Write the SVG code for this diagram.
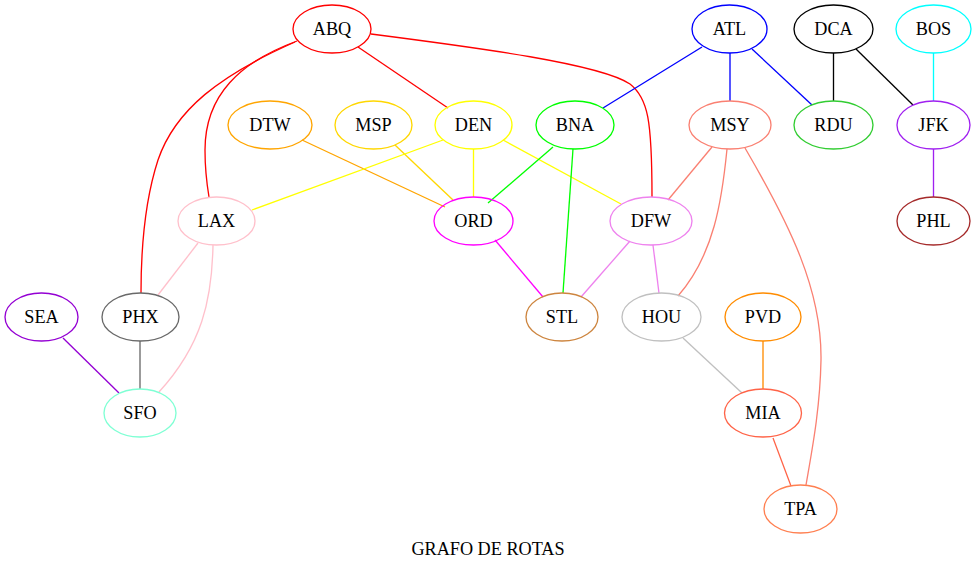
<svg xmlns="http://www.w3.org/2000/svg" width="976" height="569" viewBox="0 0 976 569">
<style>
.n ellipse{fill:none;stroke-width:1.33}
.n text{font-family:"Liberation Serif","Times New Roman",serif;font-size:18.2px;text-anchor:middle;fill:#000}
#edges path{fill:none;stroke-width:1.33}
.t{font-family:"Liberation Serif","Times New Roman",serif;font-size:18.2px;text-anchor:middle;fill:#000}
</style>
<rect width="976" height="569" fill="#fff"/>
<g id="edges">
<path d="M358,47 L448,108" stroke="#ff0000"/>
<path d="M297,41 C240,62 205,95 205,150 C205,172 207,185 209,197" stroke="#ff0000"/>
<path d="M295,42 C220,75 175,110 158,160 C145,200 141,250 141,293" stroke="#ff0000"/>
<path d="M371,34 C480,48 600,64 630,84 C648,98 652,120 652,197" stroke="#ff0000"/>
<path d="M702,47 L603,108" stroke="#0000ff"/>
<path d="M730,53 L730,101" stroke="#0000ff"/>
<path d="M752,49 L812,105" stroke="#0000ff"/>
<path d="M833.5,53 L833.5,101" stroke="#000000"/>
<path d="M856,49 L913,105" stroke="#000000"/>
<path d="M933.5,53 L933.5,101" stroke="#00ffff"/>
<path d="M933.5,149 L933.5,197" stroke="#a020f0"/>
<path d="M302,140 L445,207" stroke="#ffa500"/>
<path d="M395,145 L453,200" stroke="#ffd700"/>
<path d="M473.5,149 L473.5,197" stroke="#ffff00"/>
<path d="M443,140 L252,210" stroke="#ffff00"/>
<path d="M503,140 L621,204" stroke="#ffff00"/>
<path d="M553,147 L488,203" stroke="#00ff00"/>
<path d="M573,149 L563,293" stroke="#00ff00"/>
<path d="M712,147 L668,200" stroke="#fa8072"/>
<path d="M727,149 C722,200 714,255 678,296" stroke="#fa8072"/>
<path d="M745,148 C790,225 822,290 821,360 C820,410 812,450 806,485" stroke="#fa8072"/>
<path d="M495,240 L543,297" stroke="#ff00ff"/>
<path d="M630,241 L581,297" stroke="#ee82ee"/>
<path d="M653,245 L659,293" stroke="#ee82ee"/>
<path d="M683,338 L742,393" stroke="#c0c0c0"/>
<path d="M763,341 L763,389" stroke="#ff8c00"/>
<path d="M773,438 L791,486" stroke="#ff6347"/>
<path d="M198,243 L158,295" stroke="#ffc0cb"/>
<path d="M213,245 C212,300 202,345 159,392" stroke="#ffc0cb"/>
<path d="M140,341 L140,389" stroke="#696969"/>
<path d="M63,338 L119,393" stroke="#9400d3"/>
</g>
<g id="ABQ" class="n"><ellipse cx="332" cy="29" rx="39" ry="24" stroke="#ff0000"/><text x="332" y="35">ABQ</text></g>
<g id="ATL" class="n"><ellipse cx="729.5" cy="29" rx="37.5" ry="24" stroke="#0000ff"/><text x="729.5" y="35">ATL</text></g>
<g id="DCA" class="n"><ellipse cx="833.5" cy="29" rx="39.5" ry="24" stroke="#000000"/><text x="833.5" y="35">DCA</text></g>
<g id="BOS" class="n"><ellipse cx="933.5" cy="29" rx="37.5" ry="24" stroke="#00ffff"/><text x="933.5" y="35">BOS</text></g>
<g id="DTW" class="n"><ellipse cx="270" cy="125" rx="42" ry="24" stroke="#ffa500"/><text x="270" y="131">DTW</text></g>
<g id="MSP" class="n"><ellipse cx="373.5" cy="125" rx="38.5" ry="24" stroke="#ffd700"/><text x="373.5" y="131">MSP</text></g>
<g id="DEN" class="n"><ellipse cx="473.5" cy="125" rx="38.5" ry="24" stroke="#ffff00"/><text x="473.5" y="131">DEN</text></g>
<g id="BNA" class="n"><ellipse cx="575" cy="125" rx="39" ry="24" stroke="#00ff00"/><text x="575" y="131">BNA</text></g>
<g id="MSY" class="n"><ellipse cx="730" cy="125" rx="41" ry="24" stroke="#fa8072"/><text x="730" y="131">MSY</text></g>
<g id="RDU" class="n"><ellipse cx="833.5" cy="125" rx="39.5" ry="24" stroke="#32cd32"/><text x="833.5" y="131">RDU</text></g>
<g id="JFK" class="n"><ellipse cx="933.5" cy="125" rx="36.5" ry="24" stroke="#a020f0"/><text x="933.5" y="131">JFK</text></g>
<g id="LAX" class="n"><ellipse cx="216.5" cy="221" rx="38.5" ry="24" stroke="#ffc0cb"/><text x="216.5" y="227">LAX</text></g>
<g id="ORD" class="n"><ellipse cx="473.5" cy="221" rx="39.5" ry="24" stroke="#ff00ff"/><text x="473.5" y="227">ORD</text></g>
<g id="DFW" class="n"><ellipse cx="651" cy="221" rx="41" ry="24" stroke="#ee82ee"/><text x="651" y="227">DFW</text></g>
<g id="PHL" class="n"><ellipse cx="933.5" cy="221" rx="36.5" ry="24" stroke="#a52a2a"/><text x="933.5" y="227">PHL</text></g>
<g id="SEA" class="n"><ellipse cx="41.5" cy="317" rx="36.5" ry="24" stroke="#9400d3"/><text x="41.5" y="323">SEA</text></g>
<g id="PHX" class="n"><ellipse cx="140.5" cy="317" rx="38.5" ry="24" stroke="#696969"/><text x="140.5" y="323">PHX</text></g>
<g id="STL" class="n"><ellipse cx="562" cy="317" rx="36" ry="24" stroke="#cd853f"/><text x="562" y="323">STL</text></g>
<g id="HOU" class="n"><ellipse cx="661.5" cy="317" rx="39.5" ry="24" stroke="#c0c0c0"/><text x="661.5" y="323">HOU</text></g>
<g id="PVD" class="n"><ellipse cx="763" cy="317" rx="38" ry="24" stroke="#ff8c00"/><text x="763" y="323">PVD</text></g>
<g id="SFO" class="n"><ellipse cx="140" cy="413" rx="36" ry="24" stroke="#7fffd4"/><text x="140" y="419">SFO</text></g>
<g id="MIA" class="n"><ellipse cx="763" cy="413" rx="38.5" ry="24" stroke="#ff6347"/><text x="763" y="419">MIA</text></g>
<g id="TPA" class="n"><ellipse cx="800.5" cy="509" rx="36.5" ry="24" stroke="#ff7f50"/><text x="800.5" y="515">TPA</text></g>
<text class="t" x="488" y="555">GRAFO DE ROTAS</text>
</svg>
